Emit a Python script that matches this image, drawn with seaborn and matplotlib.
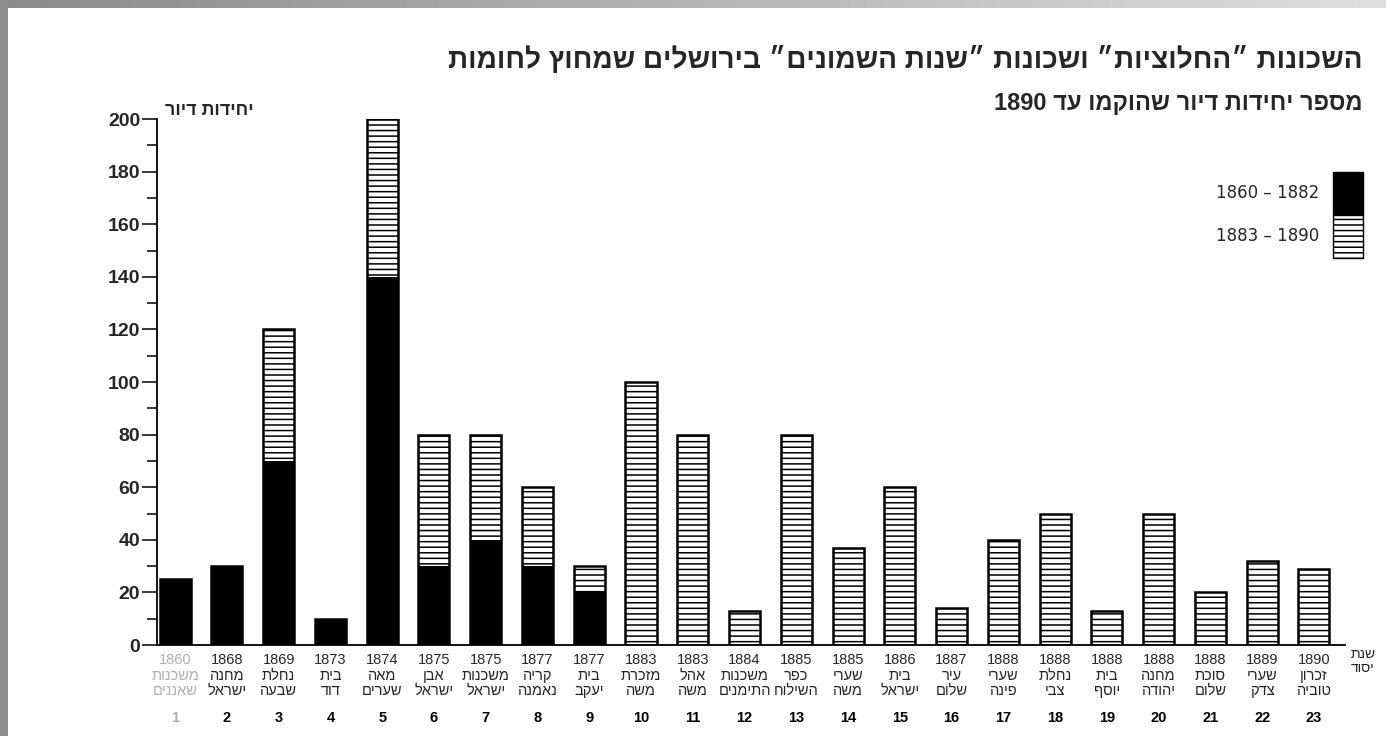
import re
import numpy as np
import pandas as pd
import seaborn as sns
import matplotlib.pyplot as plt
import matplotlib.transforms as mtransforms
from matplotlib.patches import Patch, Rectangle

# --- data ---
numbers = [str(i) for i in range(1, 24)]
years = ["1860", "1868", "1869", "1873", "1874", "1875", "1875", "1877", "1877",
         "1883", "1883", "1884", "1885", "1885", "1886", "1887", "1888", "1888",
         "1888", "1888", "1888", "1889", "1890"]
names_top = ["משכנות", "מחנה", "נחלת", "בית", "מאה", "אבן", "משכנות", "קריה", "בית",
             "מזכרת", "אהל", "משכנות", "כפר", "שערי", "בית", "עיר", "שערי", "נחלת",
             "בית", "מחנה", "סוכת", "שערי", "זכרון"]
names_bottom = ["שאננים", "ישראל", "שבעה", "דוד", "שערים", "ישראל", "ישראל", "נאמנה", "יעקב",
                "משה", "משה", "התימנים", "השילוח", "משה", "ישראל", "שלום", "פינה", "צבי",
                "יוסף", "יהודה", "שלום", "צדק", "טוביה"]
units_early = [25, 30, 70, 10, 140, 30, 40, 30, 20,
               0, 0, 0, 0, 0, 0, 0, 0, 0, 0, 0, 0, 0, 0]
units_late = [0, 0, 50, 0, 60, 50, 40, 30, 10,
              100, 80, 13, 80, 37, 60, 14, 40, 50, 13, 50, 20, 32, 29]
legend_labels = ["1860 – 1882", "1883 – 1890"]

title = "השכונות ״החלוציות״ ושכונות ״שנות השמונים״ בירושלים שמחוץ לחומות"
subtitle = "מספר יחידות דיור שהוקמו עד 1890"
ylabel = "יחידות דיור"
year_caption = ["שנת", "יסוד"]


def vis(s):
    # matplotlib has no bidi: put Hebrew in visual order, keep digit runs as they are
    r = s[::-1]
    return re.sub(r"\d+", lambda m: m.group(0)[::-1], r)


df = pd.DataFrame({"num": numbers, "early": units_early, "late": units_late})
df["total"] = df["early"] + df["late"]

sns.set_style("white")
plt.rcParams["font.family"] = ["Liberation Sans", "DejaVu Sans"]
plt.rcParams["hatch.linewidth"] = 1.1

fig = plt.figure(figsize=(13.86, 7.36), dpi=100)
ax = fig.add_axes([0.1133, 0.1236, 0.8571, 0.7147])

# total bars hatched (1883-1890 part), early part drawn black over it
sns.barplot(data=df, x="num", y="total", order=numbers, color="white", saturation=1,
            edgecolor="black", linewidth=1.8, hatch="---", width=0.6, ax=ax)
sns.barplot(data=df, x="num", y="early", order=numbers, color="black", saturation=1,
            linewidth=0, width=0.6, ax=ax)

ax.set_xlim(-0.35, 22.6)
ax.set_ylim(0, 200)
ax.set_yticks(np.arange(0, 201, 20))
ax.set_yticks(np.arange(10, 200, 20), minor=True)
ax.tick_params(axis="y", which="major", direction="out", length=11, width=1.3,
               labelsize=14, pad=1, left=True)
ax.tick_params(axis="y", which="minor", direction="out", length=7, width=1.3, left=True)
for t in ax.get_yticklabels():
    t.set_fontweight("bold")

ax.set_xticks(range(len(numbers)))
ax.set_xticklabels([f"{y}\n{vis(a)}\n{vis(b)}" for y, a, b in zip(years, names_top, names_bottom)],
                   fontsize=10.5, linespacing=1.12)
ax.tick_params(axis="x", length=0, pad=6)
ax.get_xticklabels()[0].set_color("#b0b0b0")

sns.despine(ax=ax, top=True, right=True)
for side in ["left", "bottom"]:
    ax.spines[side].set_linewidth(1.3)
    ax.spines[side].set_color("black")
ax.set_xlabel("")
ax.set_ylabel("")

# bar numbers under the names
trans = mtransforms.blended_transform_factory(ax.transData, ax.transAxes)
for i, n in enumerate(numbers):
    ax.text(i, -0.139, n, transform=trans, ha="center", va="center", fontsize=10.5,
            fontweight="bold", color="#b0b0b0" if i == 0 else "black")

ax.text(1.015, -0.03, vis(year_caption[0]) + "\n" + vis(year_caption[1]),
        transform=ax.transAxes, ha="center", va="center", fontsize=10, linespacing=1.0)
ax.text(0.007, 1.017, vis(ylabel), transform=ax.transAxes, ha="left", va="center",
        fontsize=13, fontweight="bold")

# legend: swatches stacked on the right of the labels
handles = [Patch(facecolor="black", edgecolor="black"),
           Patch(facecolor="white", edgecolor="black", hatch="---")]
ax.legend(handles, legend_labels, loc="upper right",
          bbox_to_anchor=(1363 / 1386, (736 - 172) / 736), bbox_transform=fig.transFigure,
          frameon=False, markerfirst=False, borderpad=0, borderaxespad=0,
          labelspacing=0, handlelength=1.8, handleheight=3.6, handletextpad=0.8,
          prop={"family": "DejaVu Sans", "size": 12})

fig.text(0.983, 0.918, vis(title), ha="right", va="center", fontsize=20.2, fontweight="bold",
         family=["Liberation Sans Narrow", "Liberation Sans", "DejaVu Sans"])
fig.text(0.983, 0.860, vis(subtitle), ha="right", va="center", fontsize=17, fontweight="bold")

# grey scan frame: gradient band on top, flat band on the left
top = fig.add_axes([0, 1 - 8 / 736, 1, 8 / 736])
top.imshow(np.linspace(0.54, 0.87, 256)[None, :], cmap="gray", vmin=0, vmax=1, aspect="auto")
top.axis("off")
fig.patches.append(Rectangle((0, 0), 8 / 1386, 1, transform=fig.transFigure,
                             facecolor="#8e8e8e", edgecolor="none"))

fig.savefig("out.png", dpi=100)
